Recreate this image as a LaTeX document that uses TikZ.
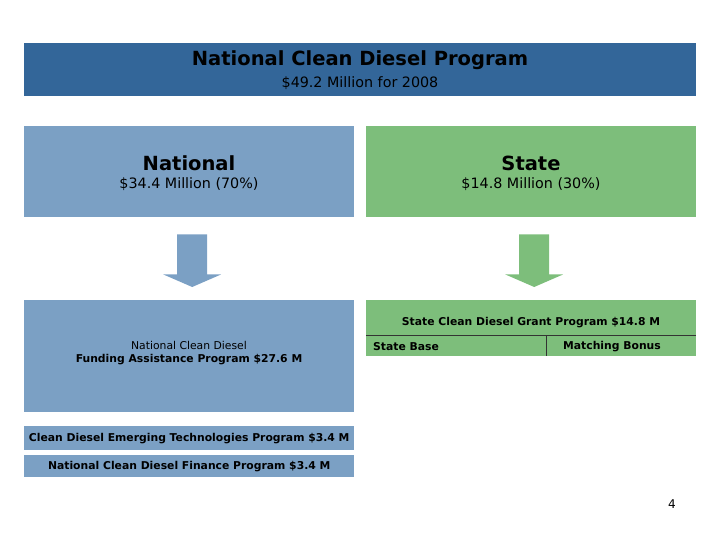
\documentclass[tikz,border=0pt]{standalone}
\usepackage{fontspec}
\setmainfont{DejaVu Sans}
\usetikzlibrary{positioning}
\usetikzlibrary{calc}

\definecolor{progblue}{RGB}{51,102,153}
\definecolor{natblue}{RGB}{123,160,196}
\definecolor{stgreen}{RGB}{125,190,123}

\tikzset{
  panel/.style={anchor=north west, inner sep=0pt, draw=none},
  bigtxt/.style={inner sep=0pt, font=\fontsize{19.5}{22}\selectfont\bfseries},
  midtxt/.style={inner sep=0pt, font=\fontsize{14.3}{16}\selectfont},
  smalltxt/.style={inner sep=0pt, font=\fontsize{10.8}{12.5}\selectfont\bfseries},
}

% block arrow between two boxes
\newcommand{\flowarrow}[3]{%
  \fill[#3] ($(#1.south)+(-12,17)$) -- ++(30,0) -- ++(0,40) -- ++(14,0)
    -- ($(#2.north)+(3,-13)$) -- ($(#1.south)+(-26,57)$) -- ++(14,0) -- cycle;
}

\begin{document}
\begin{tikzpicture}[x=1pt,y=-1pt]
  \useasboundingbox (0,0) rectangle (720,540);

  % top
  \node[panel, fill=progblue, minimum width=672pt, minimum height=53pt] (prog) at (24,43) {};
  \node[bigtxt] (progname) at (360,60) {National Clean Diesel Program};
  \node[midtxt] (progsum) at (360,83) {\$49.2 Million for 2008};

  % national / state
  \node[panel, fill=natblue, minimum width=330pt, minimum height=91pt] (natl) at (24,126) {};
  \node[bigtxt] (natlname) at (189,163) {National};
  \node[midtxt] (natlsum) at (189,184) {\$34.4 Million (70\%)};

  \node[panel, fill=stgreen, minimum width=330pt, minimum height=91pt] (state) at (366,126) {};
  \node[bigtxt] (statename) at (531,163) {State};
  \node[midtxt] (statesum) at (531,184) {\$14.8 Million (30\%)};

  % programs
  \node[panel, fill=natblue, minimum width=330pt, minimum height=112pt] (natfund) at (24,300) {};
  \node[smalltxt, align=center] (natfundtxt) at (189,353)
    {{\mdseries National Clean Diesel}\\Funding Assistance Program \$27.6 M};
  \node[panel, fill=natblue, minimum width=330pt, minimum height=24pt] (emerg) at (24,426) {};
  \node[smalltxt] (emergtxt) at (emerg.center) {Clean Diesel Emerging Technologies Program \$3.4 M};
  \node[panel, fill=natblue, minimum width=330pt, minimum height=22pt] (finance) at (24,455) {};
  \node[smalltxt] (financetxt) at (finance.center) {National Clean Diesel Finance Program \$3.4 M};

  \node[panel, fill=stgreen, minimum width=330pt, minimum height=56pt] (grant) at (366,300) {};
  \node[smalltxt] (granttxt) at (531,323) {State Clean Diesel Grant Program \$14.8 M};
  \coordinate (gl) at (366,335);
  \coordinate (gr) at (696,335);
  \coordinate (gm) at (546,335);
  \draw[black!80, line width=0.8pt] (gl) -- (gr);
  \draw[black!80, line width=0.8pt] (gm) -- (gm |- grant.south);
  \node[smalltxt, anchor=west] (stbase) at (373,347) {State Base};
  \node[smalltxt] (match) at (612,347) {Matching Bonus};

  % arrows
  \flowarrow{natl}{natfund}{natblue}
  \flowarrow{state}{grant}{stgreen}

  \node[inner sep=0pt, font=\fontsize{12}{14}\selectfont] (pagenum) at (672,504) {4};
\end{tikzpicture}
\end{document}
